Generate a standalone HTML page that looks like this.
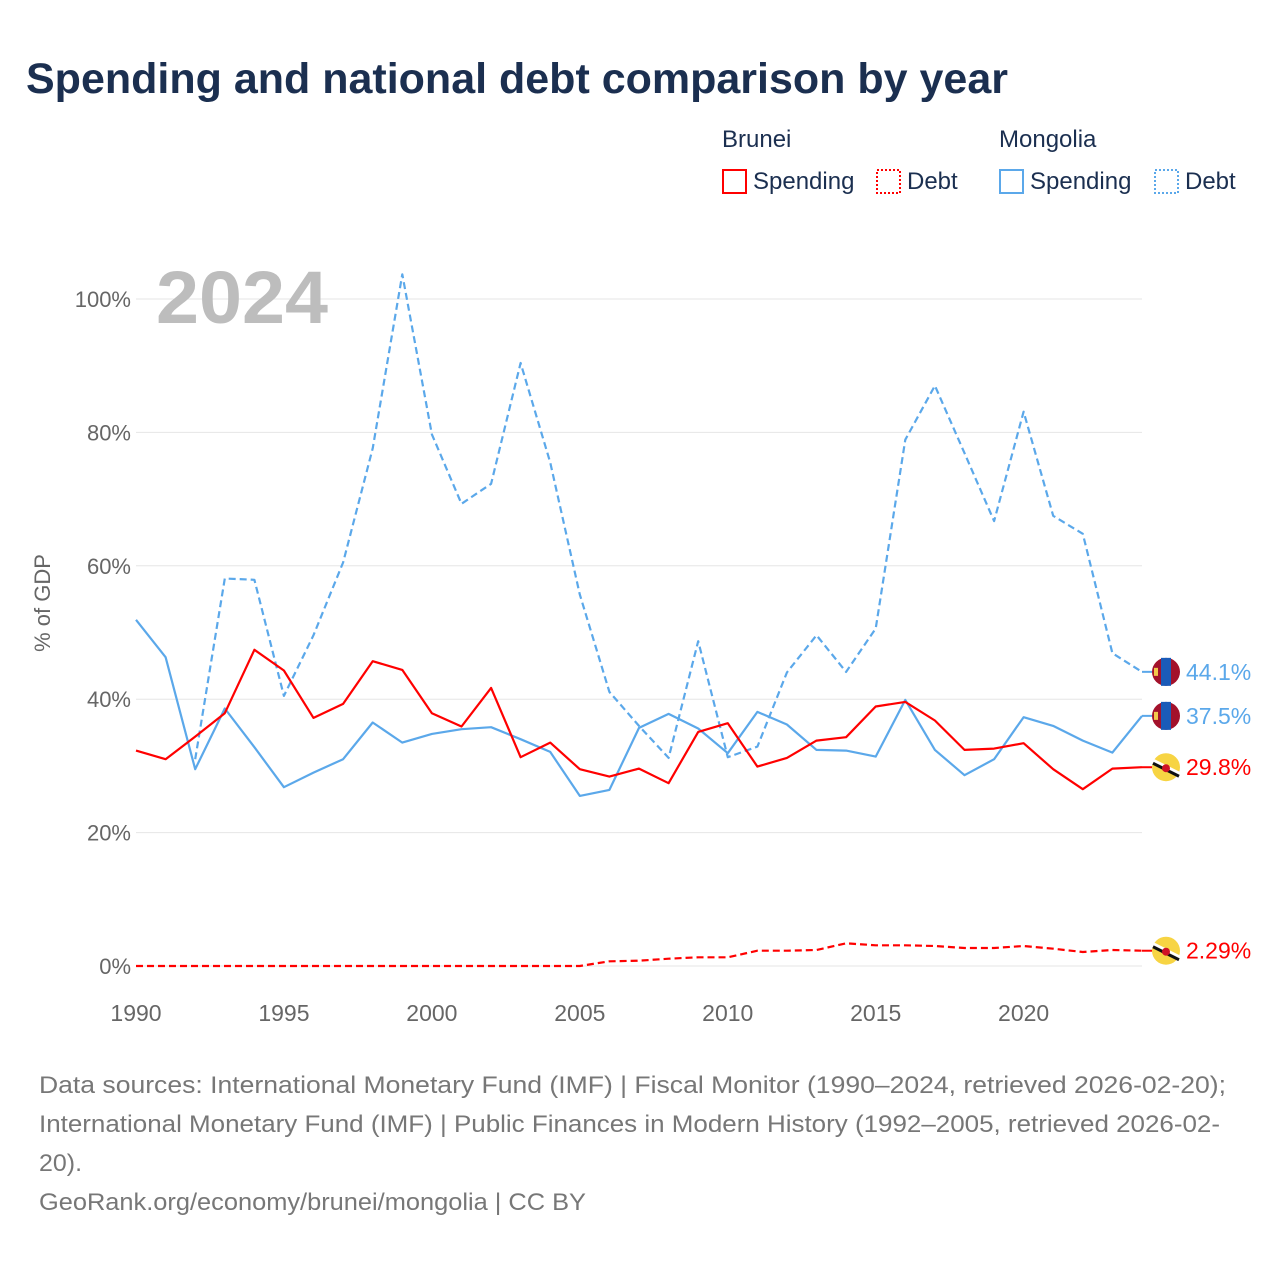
<!DOCTYPE html>
<html><head><meta charset="utf-8"><style>
body{margin:0;background:#fff;font-family:"Liberation Sans",sans-serif;}
#wrap{position:relative;width:1280px;height:1280px;overflow:hidden;}
</style></head><body>
<div id="wrap">
<svg id="chart" width="1280" height="1280" style="position:absolute;left:0;top:0"></svg>
</div>
<script>
const years=[];for(let y=1990;y<=2024;y++)years.push(y);
const bruneiSpending=[32.3,31.0,34.4,37.9,47.4,44.3,37.2,39.3,45.7,44.4,37.9,35.9,41.7,31.3,33.5,29.5,28.4,29.6,27.4,35.1,36.4,29.9,31.2,33.8,34.3,38.9,39.6,36.8,32.4,32.6,33.4,29.5,26.5,29.6,29.8];
const bruneiDebt=[0,0,0,0,0,0,0,0,0,0,0,0,0,0,0,0,0.7,0.8,1.1,1.3,1.3,2.3,2.3,2.4,3.4,3.1,3.1,3.0,2.7,2.7,3.0,2.6,2.1,2.4,2.29];
const mongoliaSpending=[51.9,46.3,29.5,38.6,32.8,26.8,29.0,31.0,36.5,33.5,34.8,35.5,35.8,34.0,32.1,25.5,26.4,35.7,37.8,35.6,31.9,38.1,36.2,32.4,32.3,31.4,39.9,32.4,28.6,31.0,37.3,36.0,33.8,32.0,37.5];
const mongoliaDebt=[null,null,31,58.1,57.9,40.5,49.6,60.5,77.6,103.7,79.7,69.3,72.3,90.4,75.5,55.7,41.1,36.0,31.2,48.7,31.3,32.9,44.0,49.6,44.1,50.6,78.9,87.0,76.9,66.7,83.1,67.5,64.8,46.9,44.1];
const yTicks=[0,20,40,60,80,100];
const xTicks=[1990,1995,2000,2005,2010,2015,2020];
const endLabels=["44.1%","37.5%","29.8%","2.29%"];

const NS="http://www.w3.org/2000/svg";
const svg=document.getElementById('chart');
const X=y=>136+(y-1990)*(1142-136)/34;
const Y=v=>966-v*6.67;
function el(t,a,txt){const e=document.createElementNS(NS,t);for(const k in a)e.setAttribute(k,a[k]);if(txt!=null)e.textContent=txt;svg.appendChild(e);return e;}
const RED="#ff0000",BLUE="#5ba8ea",NAVY="#1b2f50",GREY="#666";

let t=el('text',{x:26,y:93,'font-size':43,'font-weight':'bold',fill:NAVY,textLength:982,lengthAdjust:'spacingAndGlyphs'},"Spending and national debt comparison by year");



const lg=[["Brunei",722],["Mongolia",999]];
lg.forEach(l=>{const e=el('text',{x:l[1],y:147,'font-size':24,fill:NAVY},l[0]);

});
const items=[[722,RED,'none',"Spending"],[876,RED,'2,2',"Debt"],[999,BLUE,'none',"Spending"],[1154,BLUE,'2,2',"Debt"]];
items.forEach(it=>{const g=el('g',{});


const r=document.createElementNS(NS,'rect');r.setAttribute('x',it[0]+1);r.setAttribute('y',170);r.setAttribute('width',23);r.setAttribute('height',23);r.setAttribute('fill','none');r.setAttribute('stroke',it[1]);r.setAttribute('stroke-width',2);if(it[2]!='none')r.setAttribute('stroke-dasharray',it[2]);g.appendChild(r);
const tx=document.createElementNS(NS,'text');tx.setAttribute('x',it[0]+31);tx.setAttribute('y',189);tx.setAttribute('font-size',24);tx.setAttribute('fill',NAVY);tx.textContent=it[3];g.appendChild(tx);svg.appendChild(g);});

yTicks.forEach(v=>{const l=el('line',{x1:136,x2:1142,y1:Y(v),y2:Y(v),stroke:'#e6e6e6','stroke-width':1});


const e=el('text',{x:131,y:Y(v)+8,'font-size':22,fill:GREY,'text-anchor':'end'},v+"%");

});
xTicks.forEach(y=>{const e=el('text',{x:X(y),y:1021,'font-size':23,fill:GREY,'text-anchor':'middle'},y);

});
t=el('text',{x:0,y:0,'font-size':22,fill:GREY,'text-anchor':'middle',transform:'translate(50,603) rotate(-90)'},"% of GDP");


t=el('text',{x:156,y:323,'font-size':74,'font-weight':'bold',fill:'#bdbdbd',textLength:172,lengthAdjust:'spacingAndGlyphs'},"2024");



function path(vals,color,dash,name){let d="";vals.forEach((v,i)=>{if(v==null)return;d+=(d?"L":"M")+X(years[i]).toFixed(1)+","+Y(v).toFixed(1);});
const p=el('path',{d:d,fill:'none',stroke:color,'stroke-width':2.2,'stroke-linejoin':'round'});if(dash)p.setAttribute('stroke-dasharray',dash);

}
path(mongoliaDebt,BLUE,'7,4','mongolia-debt-line');
path(mongoliaSpending,BLUE,null,'mongolia-spending-line');
path(bruneiSpending,RED,null,'brunei-spending-line');
path(bruneiDebt,RED,'7,4','brunei-debt-line');

const ends=[[mongoliaDebt,BLUE,'mn',endLabels[0]],[mongoliaSpending,BLUE,'mn',endLabels[1]],[bruneiSpending,RED,'bn',endLabels[2]],[bruneiDebt,RED,'bn',endLabels[3]]];
ends.forEach(e=>{const v=e[0][e[0].length-1];const cy=Y(v);const cx=1166;
el('line',{x1:1142,x2:1152,y1:cy,y2:cy,stroke:e[1],'stroke-width':2});
const g=el('g',{});


const add=(t,a)=>{const c=document.createElementNS(NS,t);for(const k in a)c.setAttribute(k,a[k]);g.appendChild(c);};
if(e[2]=='mn'){add('circle',{cx:cx,cy:cy,r:14,fill:'#a3112b'});add('rect',{x:cx-5,y:cy-14,width:10,height:28,fill:'#1a5bb8'});add('rect',{x:cx-12,y:cy-4,width:4,height:8,fill:'#f2c94c'});}
else{add('circle',{cx:cx,cy:cy,r:14,fill:'#f7d443'});add('line',{x1:cx-13,y1:cy-6,x2:cx+13,y2:cy+7,stroke:'#fff','stroke-width':5});add('line',{x1:cx-13,y1:cy-4,x2:cx+13,y2:cy+9,stroke:'#111','stroke-width':3});add('circle',{cx:cx,cy:cy+1,r:4,fill:'#cf1126'});}
const tx=el('text',{x:1186,y:cy+8,'font-size':23,fill:e[1]},e[3]);

});

const foot=["Data sources: International Monetary Fund (IMF) | Fiscal Monitor (1990–2024, retrieved 2026-02-20);","International Monetary Fund (IMF) | Public Finances in Modern History (1992–2005, retrieved 2026-02-","20).","GeoRank.org/economy/brunei/mongolia | CC BY"];
const footLen=[1187,1181,43,547];
foot.forEach((s,i)=>{const e=el('text',{x:39,y:1093+i*39,'font-size':24,fill:'#777',textLength:footLen[i],lengthAdjust:'spacingAndGlyphs'},s);

});
</script>
</body></html>
